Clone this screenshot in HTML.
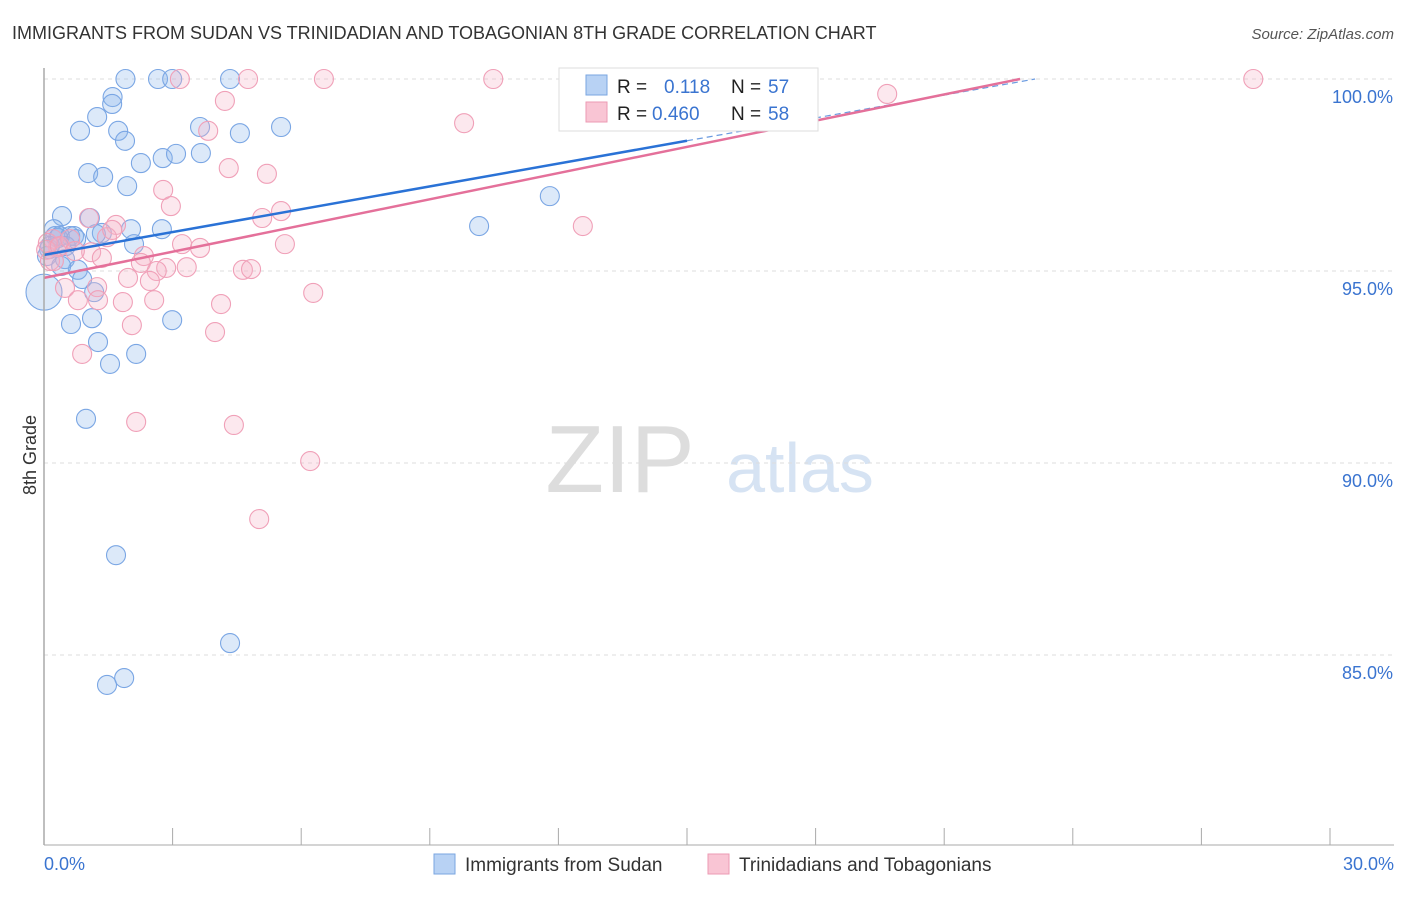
<!DOCTYPE html>
<html><head><meta charset="utf-8"><style>
body{margin:0;background:#fff;font-family:"Liberation Sans",sans-serif;}
svg text{font-family:"Liberation Sans",sans-serif;}
</style></head><body>
<svg id="chart" width="1406" height="892">
<text x="12" y="39" font-size="18" fill="#333">IMMIGRANTS FROM SUDAN VS TRINIDADIAN AND TOBAGONIAN 8TH GRADE CORRELATION CHART</text>
<text x="1394" y="39" font-size="15" fill="#555" font-style="italic" text-anchor="end">Source: ZipAtlas.com</text>
<text x="36" y="455" font-size="18" fill="#333" transform="rotate(-90 36 455)" text-anchor="middle">8th Grade</text>
<text x="620" y="492" font-size="96" fill="#ddd" font-family="Liberation Serif" text-anchor="middle">ZIP</text>
<text x="800" y="492" font-size="70" fill="#d6e3f3" text-anchor="middle">atlas</text>
<g id="grid"></g><g id="pts"></g><g id="lines"></g>
<line x1="44" y1="68" x2="44" y2="845" stroke="#aaa" stroke-width="1.5"/>
<line x1="44" y1="845" x2="1394" y2="845" stroke="#aaa" stroke-width="1"/>
<text x="44" y="870" font-size="18" fill="#3a74d0">0.0%</text>
<text x="1394" y="870" font-size="18" fill="#3a74d0" text-anchor="end">30.0%</text>
<g>
<rect x="559" y="68" width="259" height="63" fill="#fff" stroke="#ddd"/>
<rect x="586" y="75" width="21" height="20" fill="#b8d2f4" stroke="#7aa6e0"/>
<rect x="586" y="102" width="21" height="20" fill="#f9c5d4" stroke="#ec9ab3"/>
<text x="617" y="93" font-size="19" fill="#222">R =</text><text x="664" y="93" font-size="19" fill="#3a74d0">0.118</text>
<text x="731" y="93" font-size="19" fill="#222">N =</text><text x="768" y="93" font-size="19" fill="#3a74d0">57</text>
<text x="617" y="120" font-size="19" fill="#222">R =</text><text x="652" y="120" font-size="19" fill="#3a74d0">0.460</text>
<text x="731" y="120" font-size="19" fill="#222">N =</text><text x="768" y="120" font-size="19" fill="#3a74d0">58</text>
</g>
<g>
<rect x="434" y="854" width="21" height="20" fill="#b8d2f4" stroke="#7aa6e0"/>
<text x="465" y="871" font-size="19" fill="#333">Immigrants from Sudan</text>
<rect x="708" y="854" width="21" height="20" fill="#f9c5d4" stroke="#ec9ab3"/>
<text x="739" y="871" font-size="19" fill="#333">Trinidadians and Tobagonians</text>
</g>
</svg>
<script>
const yTicks=[100,95,90,85];
const xTicks=[0,3,6,9,12,15,18,21,24,27,30];
const blueX=[1.9,2.66,2.99,4.34,1.6,1.59,1.24,0.84,1.73,1.89,3.64,4.57,5.53,2.26,2.77,3.08,3.66,1.03,1.38,1.94,11.8,10.15,0.42,1.07,2.03,2.75,0.23,0.26,0.61,0.7,0.33,1.35,0.12,2.1,0.07,0.49,0.79,0.89,1.17,0.0,1.12,0.63,2.99,1.26,2.15,1.54,0.98,1.68,4.34,1.87,1.47,0.37,0.14,0.51,0.75,0.4,1.21];
const blueY=[100,100,100,100,99.53,99.35,99.01,98.65,98.65,98.39,98.75,98.59,98.75,97.81,97.94,98.05,98.07,97.55,97.45,97.21,96.95,96.17,96.43,96.38,96.09,96.09,96.09,95.91,95.91,95.91,95.86,95.99,95.57,95.7,95.39,95.31,95.03,94.79,94.45,94.45,93.77,93.62,93.72,93.15,92.84,92.58,91.15,87.6,85.31,84.4,84.22,95.91,95.65,95.65,95.83,95.13,95.96];
const pinkX=[3.17,4.76,6.53,10.48,28.21,4.22,19.67,3.83,9.8,4.31,5.2,2.78,2.96,5.53,5.09,12.57,1.05,1.68,1.47,3.22,3.64,5.62,2.33,1.1,1.35,0.21,0.33,0.09,0.05,0.14,2.26,2.85,3.33,2.63,4.64,4.83,1.96,2.47,0.49,1.24,1.26,1.84,0.79,2.57,4.13,6.28,2.05,3.99,0.89,2.15,4.43,6.21,5.02,0.37,0.61,0.72,1.59,0.23];
const pinkY=[100,100,100,100,100,99.43,99.61,98.65,98.85,97.68,97.53,97.11,96.69,96.56,96.38,96.17,96.38,96.2,95.88,95.7,95.6,95.7,95.39,95.49,95.34,95.83,95.62,95.73,95.55,95.26,95.21,95.08,95.1,95,95.03,95.05,94.82,94.74,94.56,94.58,94.24,94.19,94.24,94.24,94.14,94.43,93.59,93.41,92.84,91.07,90.99,90.05,88.54,95.65,95.83,95.52,96.07,95.26];
const blueLine=[0,95.42,23.12,100];
const pinkLine=[0,94.82,22.77,100];
const X=v=>44+v/30*1286, Y=v=>79+(100-v)*38.4;
const NS="http://www.w3.org/2000/svg";
const mk=(t,a,p)=>{const e=document.createElementNS(NS,t);for(const k in a)e.setAttribute(k,a[k]);p.appendChild(e);return e;};
const grid=document.getElementById('grid');
yTicks.forEach(t=>{
 const l=mk('line',{x1:44,x2:1394,y1:Y(t),y2:Y(t),stroke:'#ddd','stroke-dasharray':'4,4'},grid);
 
 
 const tx=mk('text',{x:1393,y:Y(t)+24,'font-size':18,fill:'#3a74d0','text-anchor':'end'},grid);
 tx.textContent=t.toFixed(1)+'%';
 
 
});
xTicks.forEach(t=>{
 const l=mk('line',{x1:X(t),x2:X(t),y1:828,y2:845,stroke:'#aaa'},grid);
 
 
});
const pts=document.getElementById('pts');
blueX.forEach((v,i)=>{
 const c=mk('circle',{cx:X(v),cy:Y(blueY[i]),r:i==39?18:9.5,fill:'rgba(140,182,235,0.3)',stroke:'#7aa6e4','stroke-width':1.1},pts);
 
 
});
pinkX.forEach((v,i)=>{
 const c=mk('circle',{cx:X(v),cy:Y(pinkY[i]),r:9.5,fill:'rgba(246,178,200,0.3)',stroke:'#f0a0b8','stroke-width':1.1},pts);
 
 
});
const lines=document.getElementById('lines');
const bx=15, by=blueLine[1]+(blueLine[3]-blueLine[1])*(bx-blueLine[0])/(blueLine[2]-blueLine[0]);
const b1=mk('line',{x1:X(blueLine[0]),y1:Y(blueLine[1]),x2:X(bx),y2:Y(by),stroke:'#2a72d6','stroke-width':2.5},lines);


const b2=mk('line',{x1:X(bx),y1:Y(by),x2:X(blueLine[2]),y2:Y(blueLine[3]),stroke:'#6b9be0','stroke-width':1.2,'stroke-dasharray':'6,4'},lines);


const p1=mk('line',{x1:X(pinkLine[0]),y1:Y(pinkLine[1]),x2:X(pinkLine[2]),y2:Y(pinkLine[3]),stroke:'#e4709a','stroke-width':2.5},lines);


</script>
</body></html>
